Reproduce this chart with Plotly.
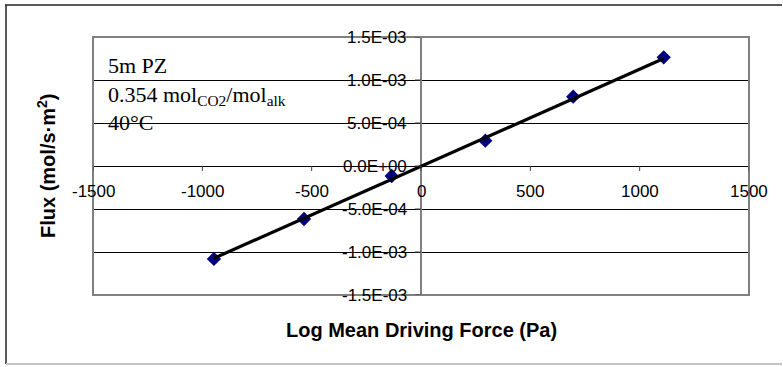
import plotly.graph_objects as go

# ---- data ----
driving_force = [-947, -535, -134, 294, 696, 1110]          # Pa
flux = [-1.081e-3, -6.16e-4, -1.16e-4, 2.94e-4, 8.06e-4, 1.264e-3]  # mol/s.m2

trend_x = [-947, 1110]
trend_y = [-1.073e-3, 1.250e-3]

x_ticks = [-1500, -1000, -500, 0, 500, 1000, 1500]
x_tick_labels = ["-1500", "-1000", "-500", "0", "500", "1000", "1500"]
y_ticks = [-1.5e-3, -1.0e-3, -5.0e-4, 0.0, 5.0e-4, 1.0e-3, 1.5e-3]
y_tick_labels = ["-1.5E-03", "-1.0E-03", "-5.0E-04", "0.0E+00", "5.0E-04", "1.0E-03", "1.5E-03"]

x_title = "Log Mean Driving Force (Pa)"
y_title = "Flux (mol/s·m<sup>2</sup>)"
note_text = "5m PZ<br>0.354 mol<sub>CO2</sub>/mol<sub>alk</sub><br>40°C"

SANS = "Liberation Sans, Arial, sans-serif"
SERIF = "Liberation Serif, Times New Roman, serif"

W, H = 783, 367
L, R, T, B = 93, 34, 37, 72
pw, ph = W - L - R, H - T - B


def px_x(p):
    return (p - L) / pw


def px_y(p):
    return (H - B - p) / ph


fig = go.Figure()
fig.add_trace(go.Scatter(
    x=driving_force, y=flux, mode="markers",
    marker=dict(symbol="diamond", size=11, color="#000080",
                line=dict(width=0)),
    showlegend=False, hoverinfo="skip"))
fig.add_trace(go.Scatter(
    x=trend_x, y=trend_y, mode="lines",
    line=dict(color="black", width=3.2),
    showlegend=False, hoverinfo="skip"))

shapes = []
# outer chart frame
shapes.append(dict(type="line", xref="paper", yref="paper",
                   x0=px_x(5), x1=px_x(782), y0=px_y(5), y1=px_y(5),
                   line=dict(color="#222222", width=1.5)))
shapes.append(dict(type="line", xref="paper", yref="paper",
                   x0=px_x(6), x1=px_x(6), y0=px_y(5), y1=px_y(364),
                   line=dict(color="#222222", width=1.5)))
shapes.append(dict(type="line", xref="paper", yref="paper",
                   x0=px_x(6), x1=px_x(782), y0=px_y(364), y1=px_y(364),
                   line=dict(color="#c4c4c4", width=2)))
# plot area border
shapes.append(dict(type="rect", xref="paper", yref="paper", x0=0, x1=1, y0=0, y1=1,
                   line=dict(color="#808080", width=2), layer="above"))
# tick marks on the crossing axes
for xv in x_ticks:
    shapes.append(dict(type="line", xref="x", yref="y", ysizemode="pixel", yanchor=0,
                       x0=xv, x1=xv, y0=0, y1=-5,
                       line=dict(color="#404040", width=1)))
for yv in y_ticks:
    shapes.append(dict(type="line", xref="x", yref="y", xsizemode="pixel", xanchor=0,
                       x0=0, x1=-6, y0=yv, y1=yv,
                       line=dict(color="#404040", width=1)))

annotations = []
for xv, lab in zip(x_ticks, x_tick_labels):
    annotations.append(dict(x=xv, y=0, xref="x", yref="y", text=lab, showarrow=False,
                            xanchor="center", yanchor="top", yshift=-14,
                            font=dict(family=SANS, size=17, color="black")))
for yv, lab in zip(y_ticks, y_tick_labels):
    annotations.append(dict(x=0, y=yv, xref="x", yref="y", text=lab, showarrow=False,
                            xanchor="right", yanchor="middle", xshift=-12,
                            font=dict(family=SANS, size=17, color="black")))
annotations.append(dict(x=0.5, y=px_y(330), xref="paper", yref="paper", text=x_title,
                        showarrow=False, xanchor="center", yanchor="middle",
                        font=dict(family=SANS, size=20, color="black", weight="bold")))
annotations.append(dict(x=px_x(46), y=0.5, xref="paper", yref="paper", text=y_title,
                        showarrow=False, xanchor="center", yanchor="middle", textangle=-90,
                        font=dict(family=SANS, size=20, color="black", weight="bold")))
annotations.append(dict(x=px_x(106), y=px_y(51), xref="paper", yref="paper", text=note_text,
                        showarrow=False, xanchor="left", yanchor="top", align="left",
                        font=dict(family=SERIF, size=22, color="black")))

fig.update_layout(
    width=W, height=H,
    margin=dict(l=L, r=R, t=T, b=B),
    paper_bgcolor="white", plot_bgcolor="white",
    xaxis=dict(range=[-1500, 1500], showgrid=False, showticklabels=False, ticks="",
               zeroline=True, zerolinecolor="#808080", zerolinewidth=2, showline=False),
    yaxis=dict(range=[-1.5e-3, 1.5e-3], tickvals=y_ticks, showticklabels=False, ticks="",
               showgrid=True, gridcolor="black", gridwidth=1,
               zeroline=True, zerolinecolor="black", zerolinewidth=1, showline=False),
    shapes=shapes, annotations=annotations,
)

fig.write_html("out.html", config={"displayModeBar": False},
               post_script="document.body.style.margin='0';document.body.style.overflow='hidden';")
